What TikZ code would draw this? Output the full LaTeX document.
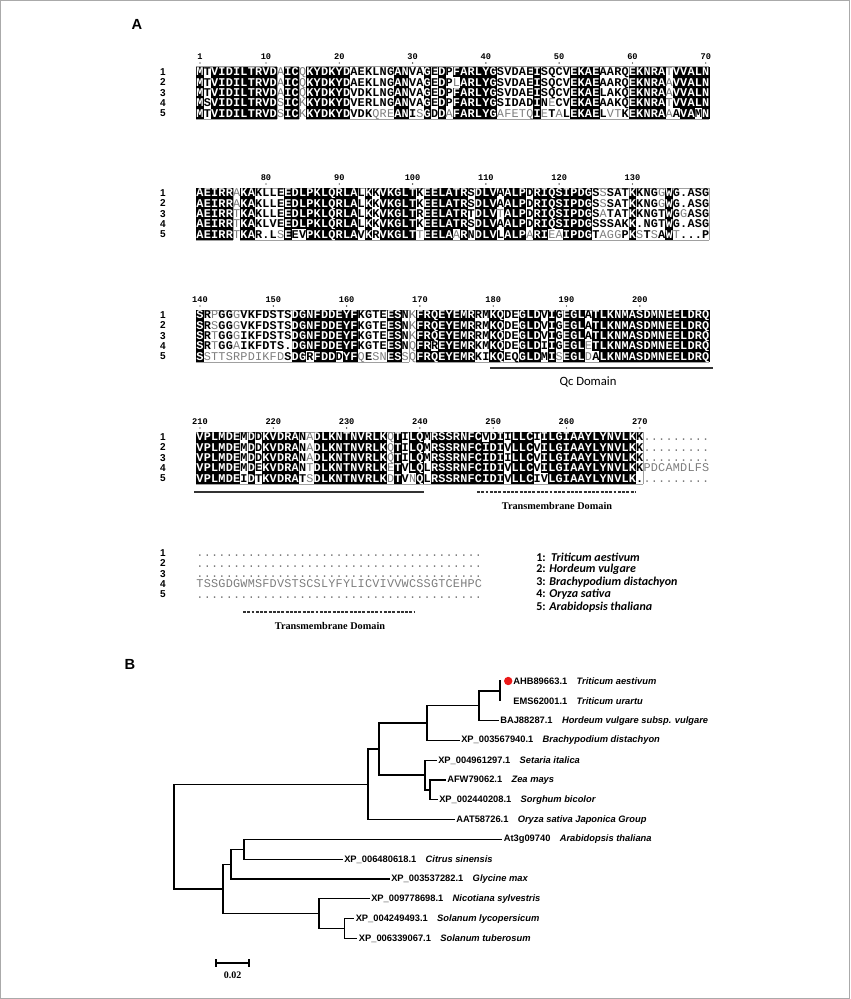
\documentclass[tikz,border=0pt]{standalone}
\usepackage{fontspec}
\setmainfont{Liberation Serif}
\setsansfont{Liberation Sans}
\setmonofont{Liberation Mono}
\newfontfamily\legendfont{Carlito}
\usepackage{xstring}
\usetikzlibrary{positioning}
\definecolor{ResGray}{RGB}{125,125,125}
\definecolor{FrameGray}{RGB}{160,160,160}
\definecolor{BorderGray}{RGB}{170,170,170}
\definecolor{DotRed}{RGB}{235,25,25}
\newcommand{\AlnX}{200}
\newcommand{\AlnP}{7.33}
\newcommand{\AlnH}{10.4}
\newcommand{\ResFontB}{\ttfamily\bfseries\fontsize{8.9}{9}\selectfont}
\newcommand{\ResFontG}{\ttfamily\fontsize{8.9}{9}\selectfont}
\newcommand{\Gap}{\hspace{7pt}}
\tikzset{
  Res/.style={inner sep=0pt,text height=5.6pt,text depth=0pt},
  Frame/.style={draw=FrameGray,line width=0.45pt},
  RowNum/.style={inner sep=0pt,font=\sffamily\bfseries\fontsize{7.5}{8}\selectfont},
  ColNum/.style={inner sep=0pt,font=\ttfamily\bfseries\fontsize{6.5}{7}\selectfont},
  Panel/.style={inner sep=0pt,font=\sffamily\bfseries\fontsize{11}{12}\selectfont},
  Domain/.style={draw=black!80,line width=1pt},
  DomainDash/.style={Domain,dash pattern=on 2.2pt off 1pt},
  QcLab/.style={inner sep=0pt,font=\legendfont\fontsize{9.5}{10}\selectfont},
  TmLab/.style={inner sep=0pt,font=\rmfamily\bfseries\fontsize{7.7}{9}\selectfont},
  Legend/.style={inner sep=0pt,anchor=west,font=\legendfont\bfseries\fontsize{9}{10}\selectfont},
  Branch/.style={draw=black,line width=0.95pt,line cap=rect},
  Leaf/.style={inner sep=0pt,font=\sffamily\bfseries\fontsize{7}{8}\selectfont},
  RedDot/.style={circle,fill=DotRed,inner sep=0pt,minimum size=6.3pt},
  ScaleLab/.style={inner sep=0pt,font=\rmfamily\bfseries\fontsize{7.5}{9}\selectfont}
}
% one row of residues: y, sequence, consensus, length, cell height
\newcommand{\AlnRow}[5]{%
  \foreach \i in {1,...,#4}{%
    \StrChar{#2}{\i}[\Res]%
    \StrChar{#3}{\i}[\Con]%
    \pgfmathsetmacro{\xx}{\AlnX+(\i-1)*\AlnP}%
    \ifx\Res\Con
      \fill (\xx-\AlnP/2-0.06,#1-#5/2-0.06) rectangle (\xx+\AlnP/2+0.06,#1+#5/2+0.06);
      \node[Res,text=white,font=\ResFontB] (res) at (\xx,#1) {\Res};
    \else
      \IfSubStr{=+}{\Con}{\def\ResCol{ResGray}\def\ResFnt{\ResFontG}}{%
        \IfSubStr{abcdefghijklmnopqrstuvwxyz}{\Res}%
          {\def\ResCol{ResGray}\def\ResFnt{\ResFontG}}%
          {\def\ResCol{black}\def\ResFnt{\ResFontB}}}%
      \node[Res,text=\ResCol,font=\ResFnt] (res) at (\xx,#1) {\MakeUppercase{\Res}};
    \fi
  }}
% gray frames round similar columns: top y, bottom y, consensus, length
\newcommand{\AlnFrame}[4]{%
  \foreach \i in {1,...,#4}{%
    \StrChar{#3}{\i}[\Con]%
    \IfStrEq{\Con}{=}{}{%
      \pgfmathsetmacro{\xl}{\AlnX+(\i-1.5)*\AlnP}%
      \pgfmathsetmacro{\xr}{\AlnX+(\i-0.5)*\AlnP}%
      \draw[Frame] (\xl,#1) -- (\xr,#1) (\xl,#2) -- (\xr,#2);
      \pgfmathtruncatemacro{\ipv}{\i-1}%
      \pgfmathtruncatemacro{\inx}{\i+1}%
      \StrChar{#3}{\ipv}[\Prv]%
      \StrChar{#3}{\inx}[\Nxt]%
      \IfStrEq{\Prv}{=}{\draw[Frame] (\xl,#1) -- (\xl,#2);}{%
        \IfStrEq{\Prv}{}{\draw[Frame] (\xl,#1) -- (\xl,#2);}{}}%
      \IfStrEq{\Nxt}{=}{\draw[Frame] (\xr,#1) -- (\xr,#2);}{%
        \IfStrEq{\Nxt}{}{\draw[Frame] (\xr,#1) -- (\xr,#2);}{}}%
    }}}
% a block: y of row 1, row height, consensus, length, rows 1-5
\newcommand{\AlnBlock}[9]{%
  \AlnFrame{#1-#2/2}{#1+4.5*#2}{#3}{#4}
  \AlnRow{#1}{#5}{#3}{#4}{#2}
  \AlnRow{#1+#2}{#6}{#3}{#4}{#2}
  \AlnRow{#1+2*#2}{#7}{#3}{#4}{#2}
  \AlnRow{#1+3*#2}{#8}{#3}{#4}{#2}
  \AlnRow{#1+4*#2}{#9}{#3}{#4}{#2}
  \foreach \k in {1,...,5}
    \node[RowNum] (row\k) at (163,#1+\k*#2-#2) {\k};
}
\newcommand{\AlnNums}[2]{%
  \foreach \lab/\c in {#2}{%
    \pgfmathsetmacro{\xx}{\AlnX+(\c-1)*\AlnP}%
    \node[ColNum] (num) at (\xx,#1-15.5) {\lab};
    \fill (\xx,#1-9) circle[radius=0.7];
  }}

\begin{document}
\begin{tikzpicture}[x=0.75pt,y=-0.75pt]
\useasboundingbox (0,0) rectangle (850,999);
\draw[BorderGray,line width=0.75pt] (0.5,0.5) rectangle (849.5,998.5);

% ---- A: alignment
\node[Panel] (labA) at (137,24) {A};

\AlnNums{72}{1/1,10/10,20/20,30/30,40/40,50/50,60/60,70/70}
\AlnBlock{72}{\AlnH}{M-VIDILTRVD=IC=KYDKYD------AN--G-D-FARLYG-----I----EKAE----EKNRA+VVALN}{70}
  {MTVIDILTRVDAICQKYDKYDAEKLNGANVAGEDPFARLYGSVDAEISQCVEKAEAARQEKNRATVVALN}
  {MTVIDILTRVDAICQKYDKYDAEKLNGANVAGEDPlARLYGSVDAEISQCVEKAEAARQEKNRAAVVALN}
  {MTVIDILTRVDAICQKYDKYDVDKLNGANVAGEDPFARLYGSVDAEISQCVEKAELAKQEKNRAAVVALN}
  {MSVIDILTRVDSICKKYDKYDVERLNGANVAGEDPFARLYGSIDADINeCVEKAEAAKQEKNRATVVALN}
  {MTVIDILTRVDSICKKYDKYDVDKqreANIsGDDaFARLYGafetqIeTaLEKAELvtKEKNRAAAVAMN}

\AlnNums{193}{80/10,90/20,100/30,110/40,120/50,130/60}
\AlnBlock{193}{\AlnH}{AEIRR=KA----EDLPKLQRLA-K-VKGLT-EELATR-DLV-ALP-RIQSIPDG-----K----W-----}{70}
  {AEIRRAKAKLLEEDLPKLQRLALKKVKGLTKEELATRSDLVAALPDRIQSIPDGSsSATKKNGgWG.ASG}
  {AEIRRAKAKLLEEDLPKLQRLALKKVKGLTKEELATRSDLVAALPDRIQSIPDGSsSATKKNGgWG.ASG}
  {AEIRRTKAKLLEEDLPKLQRLALKKVKGLTREELATRTDLVtALPDRIQSIPDGSaTATKKNGTWGgASG}
  {AEIRRTKAKLVEEDLPKLQRLALKKVKGLTKEELATRSDLVAALPDRIQSIPDGSSSAKK.NGTWG.ASG}
  {AEIRRTKAR.LsEEVPKLQRLAVKRVKGLTtEELAaRNDLVLALPaRIeaIPDGTaggPKsTsAWt...P}

\AlnNums{315}{140/1,150/11,160/21,170/31,180/41,190/51,200/61}
\AlnBlock{315}{\AlnH}{S-+--+-------DGNFDDEYF----ES-=FRQEYEMR--KQ--GLD-I-EGL-TLKNMASDMNEELDRQ}{70}
  {SRPGGGVKFDSTSDGNFDDEYFKGTEESNKFRQEYEMRRMKQDEGLDVIGEGLATLKNMASDMNEELDRQ}
  {SRSGGGVKFDSTSDGNFDDEYFKGTEESNKFRQEYEMRRMKQDEGLDVIGEGLATLKNMASDMNEELDRQ}
  {SRTGGGIKFDSTSDGNFDDEYFKGTEESNKFRQEYEMRRMKQDEGLDVIGEGLATLKNMASDMNEELDRQ}
  {SRTGGAIKFDTS.DGNFDDEYFKGTEESNQFRREYEMRKMKQDEGLDIIGEGLeTLKNMASDMNEELDRQ}
  {SsttsrpdikfdSDGRFDDDYFqEsnESsQFRQEYEMRKIKQEQGLDMIsEGLdALKNMASDMNEELDRQ}
\coordinate (qcL) at (490,368);
\coordinate (qcR) at (713,368);
\draw[Domain] (qcL) -- (qcR);
\node[QcLab] (qcLab) at (588,382) {Qc Domain};

\AlnNums{437}{210/1,220/11,230/21,240/31,250/41,260/51,270/61}
\AlnBlock{437}{\AlnH}{VPLMDE-D-KVDRA-+DLKNTNVRLK+T-LQ-RSSRNFCIDI-LLC-ILGIAAYLYNVLK-=========}{70}
  {VPLMDEMDDKVDRANADLKNTNVRLKQTILQMRSSRNFCVDIILLCIILGIAAYLYNVLKK.........}
  {VPLMDEMDDKVDRANADLKNTNVRLKQTILQMRSSRNFCIDIVLLCVILGIAAYLYNVLKK.........}
  {VPLMDEMDDKVDRANADLKNTNVRLKQTILQMRSSRNFCIDIILLCVILGIAAYLYNVLKK.........}
  {VPLMDEMDEKVDRANTDLKNTNVRLKETVLQLRSSRNFCIDIVLLCVILGIAAYLYNVLKKPDCAMDLFS}
  {VPLMDEIDTKVDRATSDLKNTNVRLKDTVnQLRSSRNFCIDIVLLCIVLGIAAYLYNVLK..........}
\coordinate (qcEndL) at (194,492);
\coordinate (qcEndR) at (424,492);
\draw[Domain] (qcEndL) -- (qcEndR);
\coordinate (tmAL) at (477,492);
\coordinate (tmAR) at (636,492);
\draw[DomainDash] (tmAL) -- (tmAR);
\node[TmLab] (tmLabA) at (557,506) {Transmembrane Domain};

\AlnBlock{553}{10.4}{=======================================}{39}
  {.......................................}
  {.......................................}
  {.......................................}
  {TSSGDGWMSFDVSTSCSLYFYLICVIVVWCSSGTCEHPC}
  {.......................................}
\coordinate (tmBL) at (243,612);
\coordinate (tmBR) at (414,612);
\draw[DomainDash] (tmBL) -- (tmBR);
\node[TmLab] (tmLabB) at (330,626) {Transmembrane Domain};

\node[Legend] (leg1) at (536,557) {1:\ \ \textit{Triticum aestivum}};
\node[Legend] (leg2) at (536,569.5) {2: \textit{Hordeum vulgare}};
\node[Legend] (leg3) at (536,582) {3: \textit{Brachypodium distachyon}};
\node[Legend] (leg4) at (536,594.5) {4: \textit{Oryza sativa}};
\node[Legend] (leg5) at (536,607) {5: \textit{Arabidopsis thaliana}};

% ---- B: tree
\node[Panel] (labB) at (130,664) {B};

\coordinate (root) at (174,836.7);
\coordinate (mono) at (368,784.3);
\coordinate (grass) at (379,749);
\coordinate (pooid) at (427,723);
\coordinate (trit) at (479,705.7);
\coordinate (wheat) at (500,690.9);
\coordinate (pacmad) at (425,775);
\coordinate (zs) at (430,789.9);
\coordinate (dicot) at (223,889);
\coordinate (rosid) at (231,864.2);
\coordinate (ac) at (244,849.3);
\coordinate (sol) at (319,913.7);
\coordinate (solan) at (344.5,928.5);
\coordinate (tAHB) at (500,681);
\coordinate (tEMS) at (500,700.8);
\coordinate (tBAJ) at (498,720.6);
\coordinate (tBra) at (459,740.4);
\coordinate (tSet) at (436,760.2);
\coordinate (tZea) at (445,780);
\coordinate (tSor) at (437,799.8);
\coordinate (tOry) at (454,819.6);
\coordinate (tAra) at (501.5,839.4);
\coordinate (tCit) at (342,859.2);
\coordinate (tGly) at (389,879);
\coordinate (tNic) at (369,898.8);
\coordinate (tLyc) at (353.5,918.6);
\coordinate (tTub) at (356.6,938.4);

\foreach \p/\c in {root/mono,root/dicot,mono/grass,mono/tOry,grass/pooid,grass/pacmad,
    pooid/trit,pooid/tBra,trit/wheat,trit/tBAJ,wheat/tAHB,wheat/tEMS,
    pacmad/tSet,pacmad/zs,zs/tZea,zs/tSor,dicot/rosid,dicot/sol,rosid/ac,rosid/tGly,
    ac/tAra,ac/tCit,sol/tNic,sol/solan,solan/tLyc,solan/tTub}
  \draw[Branch] (\p) |- (\c);

\node[RedDot,right=2.8pt of tAHB] (dot) {};
\node[Leaf,right=9.8pt of tAHB] (lAHB) {AHB89663.1\Gap\textit{Triticum aestivum}};
\node[Leaf,right=9.8pt of tEMS] (lEMS) {EMS62001.1\Gap\textit{Triticum urartu}};
\node[Leaf,right=1.5pt of tBAJ] (lBAJ) {BAJ88287.1\Gap\textit{Hordeum vulgare subsp. vulgare}};
\node[Leaf,right=1.5pt of tBra] (lBra) {XP\_003567940.1\Gap\textit{Brachypodium distachyon}};
\node[Leaf,right=1.5pt of tSet] (lSet) {XP\_004961297.1\Gap\textit{Setaria italica}};
\node[Leaf,right=1.5pt of tZea] (lZea) {AFW79062.1\Gap\textit{Zea mays}};
\node[Leaf,right=1.5pt of tSor] (lSor) {XP\_002440208.1\Gap\textit{Sorghum bicolor}};
\node[Leaf,right=1.5pt of tOry] (lOry) {AAT58726.1\Gap\textit{Oryza sativa Japonica Group}};
\node[Leaf,right=1.5pt of tAra] (lAra) {At3g09740\Gap\textit{Arabidopsis thaliana}};
\node[Leaf,right=1.5pt of tCit] (lCit) {XP\_006480618.1\Gap\textit{Citrus sinensis}};
\node[Leaf,right=1.5pt of tGly] (lGly) {XP\_003537282.1\Gap\textit{Glycine max}};
\node[Leaf,right=1.5pt of tNic] (lNic) {XP\_009778698.1\Gap\textit{Nicotiana sylvestris}};
\node[Leaf,right=1.5pt of tLyc] (lLyc) {XP\_004249493.1\Gap\textit{Solanum lycopersicum}};
\node[Leaf,right=1.5pt of tTub] (lTub) {XP\_006339067.1\Gap\textit{Solanum tuberosum}};

% scale bar
\coordinate (sbL) at (216,963);
\coordinate (sbR) at (249,963);
\draw[Branch] (sbL) -- (sbR);
\draw[Branch] ([yshift=2.2pt]sbL) -- ([yshift=-2.2pt]sbL);
\draw[Branch] ([yshift=2.2pt]sbR) -- ([yshift=-2.2pt]sbR);
\node[ScaleLab] (sbLab) at (232.5,975) {0.02};
\end{tikzpicture}
\end{document}
